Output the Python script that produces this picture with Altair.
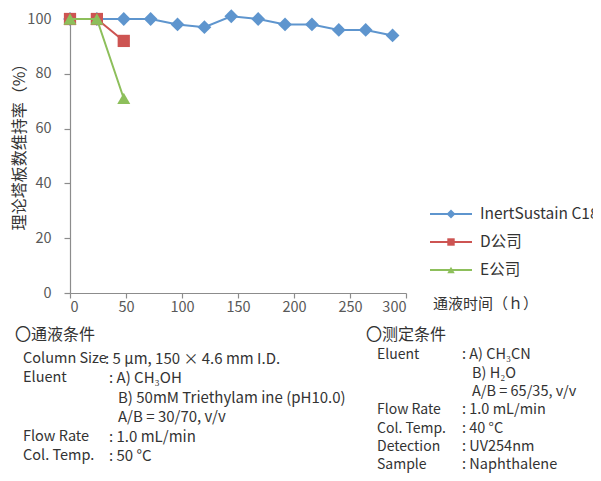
import altair as alt
import pandas as pd

# ---------------- data ----------------
series_names = ["InertSustain C18", "D公司", "E公司"]
inert_hours = [0, 24, 48, 72, 96, 120, 144, 168, 192, 216, 240, 264, 288]
inert_values = [100, 100, 100, 100, 98, 97, 101, 100, 98, 98, 96, 96, 94]
d_hours = [0, 24, 48]
d_values = [100, 100, 92]
e_hours = [0, 24, 48]
e_values = [100, 100, 71]

x_ticks = [0, 50, 100, 150, 200, 250, 300]
y_ticks = [0, 20, 40, 60, 80, 100]

y_title = "理论塔板数维持率（%）"
x_title = "通液时间（ｈ）"

left_heading = "〇通液条件"
left_labels = ["Column Size", "Eluent", "", "", "Flow Rate", "Col. Temp."]
left_values = [": 5 µm, 150 × 4.6 mm I.D.", ": A) CH₃OH",
               "B) 50mM Triethylam ine (pH10.0)", "A/B = 30/70, v/v",
               ": 1.0 mL/min", ": 50 °C"]

right_heading = "〇测定条件"
right_labels = ["Eluent", "", "", "Flow Rate", "Col. Temp.", "Detection", "Sample"]
right_values = [": A) CH₃CN", "B) H₂O", "A/B = 65/35, v/v", ": 1.0 mL/min",
                ": 40 °C", ": UV254nm", ": Naphthalene"]

# ---------------- styles ----------------
FONT = "Noto Sans CJK SC"
TEXT = "#333333"
colors = ["#5E95CE", "#CD5452", "#8DBF5B"]
shapes = ["diamond", "square", "triangle-up"]
sizes = [190, 150, 170]
leg_sizes = [80, 55, 55]

xs = alt.Scale(domain=[0, 300], nice=False)
ys = alt.Scale(domain=[0, 100], nice=False)

axis_common = dict(grid=False, domainColor="#8c8c8c", tickColor="#8c8c8c",
                   labelColor="#595959", labelFont=FONT, labelFontSize=14.5,
                   title=None, domainWidth=1.2, tickWidth=1.2)

all_series = [(inert_hours, inert_values), (d_hours, d_values), (e_hours, e_values)]

layers = []
for i, (hrs, vals) in enumerate(all_series):
    df = pd.DataFrame({"h": hrs, "v": vals, "s": series_names[i]})
    base = alt.Chart(df)
    if i == 0:
        xenc = alt.X("h:Q", scale=xs, axis=alt.Axis(values=x_ticks, tickSize=5,
                                                     labelPadding=2, **axis_common))
        yenc = alt.Y("v:Q", scale=ys, axis=alt.Axis(values=y_ticks, tickSize=6,
                                                     labelPadding=13, **axis_common))
    else:
        xenc = alt.X("h:Q", scale=xs)
        yenc = alt.Y("v:Q", scale=ys)
    layers.append(base.mark_line(color=colors[i], strokeWidth=2).encode(x=xenc, y=yenc))
    layers.append(base.mark_point(shape=shapes[i], filled=True, opacity=1,
                                  size=sizes[i], color=colors[i]).encode(x=xenc, y=yenc))


def txt(s, x, y, size=15, angle=0, align="left", color=TEXT):
    d = pd.DataFrame({"t": [s]})
    return alt.Chart(d).mark_text(font=FONT, fontSize=size, align=align,
                                  baseline="middle", angle=angle, color=color).encode(
        x=alt.value(x), y=alt.value(y), text="t:N")


# axis titles
layers.append(txt(y_title, -50, 124, size=16, angle=270, align="center"))
layers.append(txt(x_title, 363, 285, size=15))

# legend
leg_rows = [195, 223, 251]
for i in range(3):
    ldf = pd.DataFrame({"s": [series_names[i]]})
    lb = alt.Chart(ldf)
    layers.append(lb.mark_rule(color=colors[i], strokeWidth=2).encode(
        x=alt.value(360), x2=alt.value(402), y=alt.value(leg_rows[i])))
    layers.append(lb.mark_point(shape=shapes[i], filled=True, opacity=1,
                                size=leg_sizes[i], color=colors[i]).encode(
        x=alt.value(381), y=alt.value(leg_rows[i])))
    layers.append(lb.mark_text(font=FONT, fontSize=15.5, align="left", baseline="middle",
                               color=TEXT).encode(
        x=alt.value(410), y=alt.value(leg_rows[i]), text="s:N"))

# condition text blocks
LAB = 14.5
layers.append(txt(left_heading, -55, 316, size=16))
left_rows = [340, 359, 379, 398, 418, 437]
for i, (lab, val) in enumerate(zip(left_labels, left_values)):
    if lab:
        layers.append(txt(lab, -47, left_rows[i], size=LAB))
    if i == 0:
        vx = 35
    elif val.startswith(":"):
        vx = 39
    else:
        vx = 48
    layers.append(txt(val, vx, left_rows[i]))

layers.append(txt(right_heading, 296, 316, size=16))
right_rows = [336, 354.5, 373, 391, 409.5, 428, 446]
for i, (lab, val) in enumerate(zip(right_labels, right_values)):
    if lab:
        layers.append(txt(lab, 307, right_rows[i], size=14))
    vx = 392 if val.startswith(":") else 402
    layers.append(txt(val, vx, right_rows[i], size=14.5))

chart = alt.layer(*layers).properties(
    width=336, height=274,
    padding={"left": 62, "top": 11, "right": 187, "bottom": 180},
    autosize="none",
).configure_view(stroke=None)

chart.save("out.html", embed_options={"renderer": "svg", "actions": False})
